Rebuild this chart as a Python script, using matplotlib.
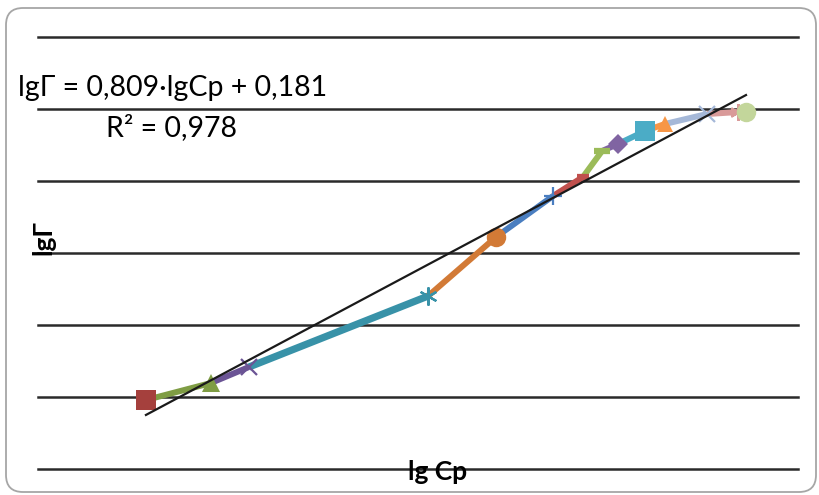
import matplotlib.pyplot as plt
from matplotlib.patches import FancyBboxPatch

# lg Cp / lg Gamma points, one per series (line from previous point to this one)
lg_cp = [-2.850, -2.553, -2.379, -1.559, -1.248, -0.987, -0.850, -0.763,
         -0.690, -0.566, -0.475, -0.283, -0.141, -0.104]
lg_gamma = [-2.021, -1.903, -1.792, -1.299, -0.889, -0.604, -0.472, -0.292,
            -0.243, -0.153, -0.104, -0.035, -0.021, -0.021]

# trendline from the chart
slope = 0.809
intercept = 0.181
r2 = 0.978

colors = ['#A5403D', '#7F9D44', '#6B5495', '#3892A8', '#D27A36', '#4A7EC0',
          '#C0504D', '#9BBB59', '#8064A2', '#4BACC6', '#F79646', '#A5B8D8',
          '#D99A99', '#C3D69B']
markers = ['s', '^', 'x', (6, 2, 0), 'o', '+', '_', '_', 'D', 's', '^', 'x',
           (6, 2, 0), 'o']
msizes = [14, 13, 12, 13, 14, 13, 8, 12, 10, 14, 12, 12, 12, 14]

W, H = 819, 495
fig = plt.figure(figsize=(W / 100, H / 100), dpi=100)
ax = fig.add_axes([38 / W, 1 - 469 / H, 760 / W, 432 / H])

# Excel-like horizontal gridlines
for yv in [-2.5, -2.0, -1.5, -1.0, -0.5, 0.0, 0.5]:
    ax.axhline(yv, color='#2a2a2a', lw=1.8, zorder=1, clip_on=False)

for i in range(1, len(lg_cp)):
    lw = 5.2 if i == 3 else 4.3
    ax.plot(lg_cp[i - 1:i + 1], lg_gamma[i - 1:i + 1], color=colors[i],
            lw=lw, solid_capstyle='butt', zorder=2 + i * 0.01)

for i in range(len(lg_cp)):
    m = markers[i]
    thin = m in ('x', '+') or isinstance(m, tuple)
    mew = 1.6 if thin else (4.5 if m == '_' else 0)
    ax.plot(lg_cp[i], lg_gamma[i], marker=m, color=colors[i], ms=msizes[i],
            mew=mew, mec=colors[i], ls='none', zorder=3)

tx = [lg_cp[0], lg_cp[-1]]
ax.plot(tx, [slope * v + intercept for v in tx], color='#1a1a1a', lw=1.6, zorder=5)

ax.set_xlim(-3.344, 0.134)
ax.set_ylim(-2.5, 0.5)
ax.set_xticks([])
ax.set_yticks([])
for s in ax.spines.values():
    s.set_visible(False)
ax.patch.set_alpha(0)

font = 'Lato'
fig.text(18 / W, 1 - 88 / H, 'lgΓ = 0,809·lgCp + 0,181', fontsize=20.5,
         family=font, ha='left', va='center')
fig.text(172 / W, 1 - 128 / H, f'R² = {r2:.3f}'.replace('.', ','), fontsize=20.5,
         family=font, ha='center', va='center')
fig.text(43 / W, 1 - 238 / H, 'lgΓ', fontsize=19, family=font, weight='bold',
         rotation=90, ha='center', va='center')
fig.text(438 / W, 1 - 472 / H, 'lg Cp', fontsize=19, family=font, weight='bold',
         ha='center', va='center')

frame = FancyBboxPatch((0.06, 0.03), 8.10, 4.84,
                       boxstyle='round,pad=0,rounding_size=0.17',
                       transform=fig.dpi_scale_trans, fill=False,
                       edgecolor='#a6a6a6', lw=1.3)
fig.add_artist(frame)

fig.savefig('out.png', dpi=100)
